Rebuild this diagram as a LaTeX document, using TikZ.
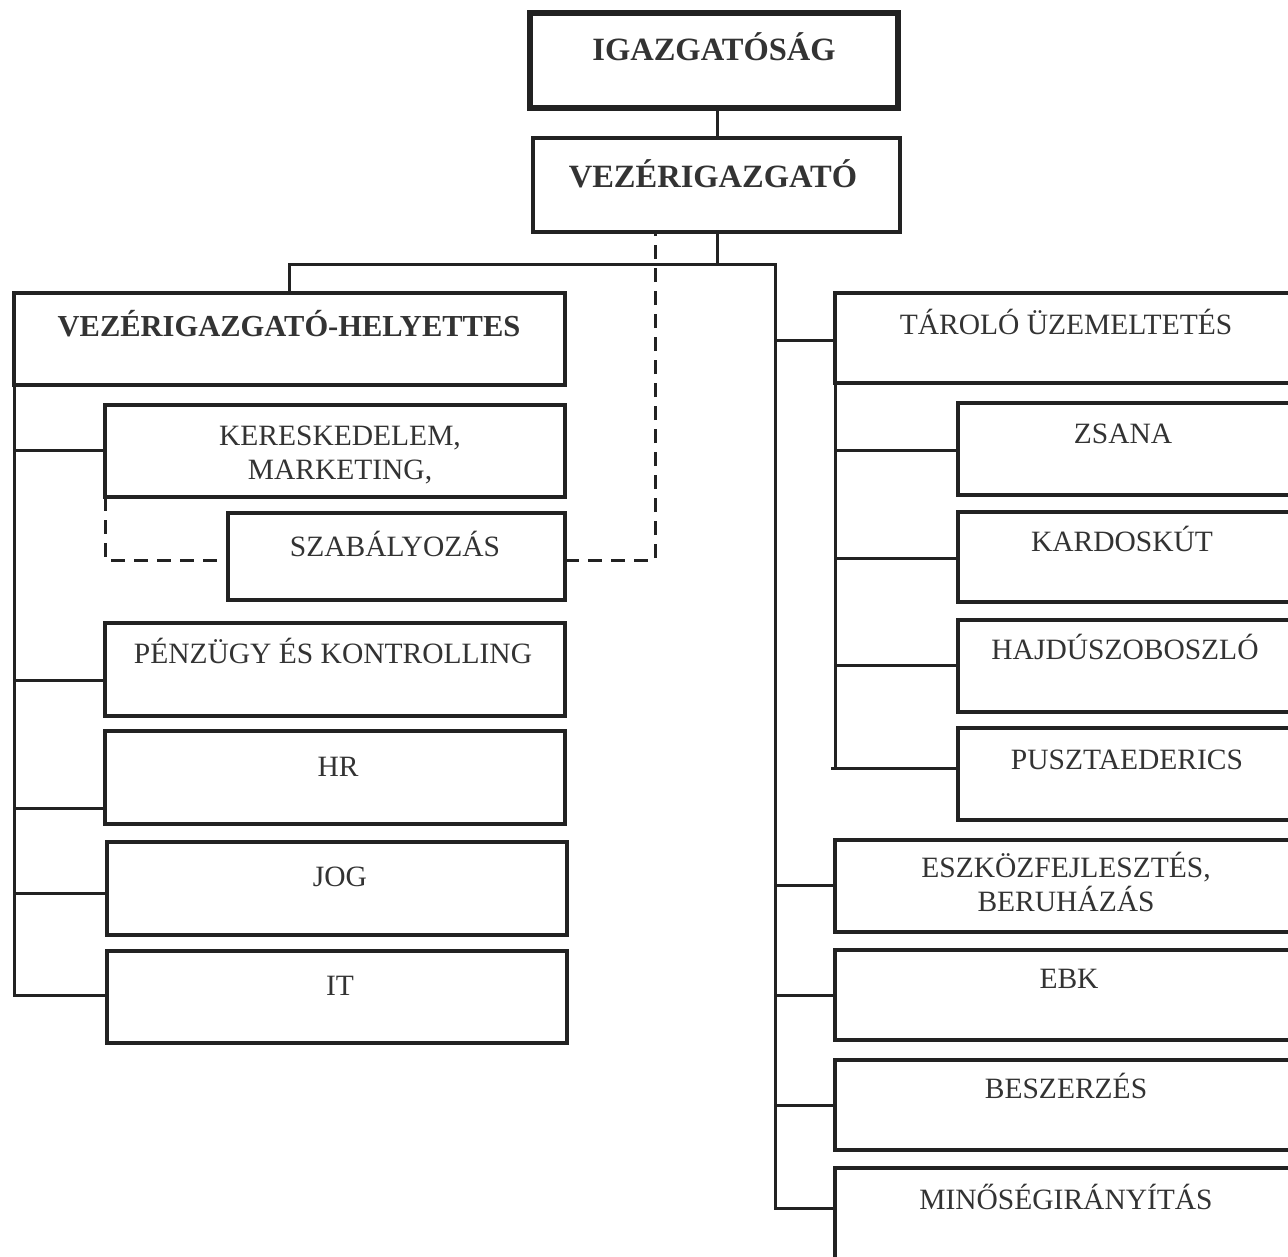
\documentclass[tikz,border=0pt]{standalone}
\usepackage{fontspec}
\setmainfont{Liberation Serif}
\usetikzlibrary{fit}
\definecolor{ink}{HTML}{222222}
\definecolor{txt}{HTML}{333333}
\tikzset{
  box/.style={draw=ink,line width=3.4pt,inner sep=0pt,outer sep=0pt},
  topbox/.style={box,line width=6pt},
  lbl/.style={text=txt,font=\fontsize{29.5}{33}\selectfont,anchor=base,inner sep=0pt},
  toplbl/.style={lbl,font=\fontsize{32.5}{38}\selectfont\bfseries},
  twolbl/.style={lbl,anchor=center,align=center,font=\fontsize{29.5}{34}\selectfont},
  conn/.style={draw=ink,line width=3pt},
  dconn/.style={draw=ink,line width=3pt,dash pattern=on 14pt off 9pt}
}
\begin{document}
\begin{tikzpicture}[x=1pt,y=-1pt]
\useasboundingbox (0,0) rectangle (1288,1256);
\clip (0,0) rectangle (1288,1256);
\fill[white] (0,0) rectangle (1288,1256);
% boxes
\node[topbox,fit={(530,13) (898,108)}] (igaz) {};
\node[box,fit={(533,138) (900,232)}] (vez) {};
\node[box,fit={(14,293) (565,385)}] (vh) {};
\node[box,fit={(105,405) (565,497)}] (ker) {};
\node[box,fit={(228,513) (565,600)}] (sza) {};
\node[box,fit={(105,623) (565,716)}] (pen) {};
\node[box,fit={(105,731) (565,824)}] (hr) {};
\node[box,fit={(107,842) (567,935)}] (jog) {};
\node[box,fit={(107,951) (567,1043)}] (it) {};
\node[box,fit={(835,293) (1298,383)}] (tar) {};
\node[box,fit={(958,403) (1298,495)}] (zsa) {};
\node[box,fit={(958,512) (1298,602)}] (kar) {};
\node[box,fit={(958,620) (1298,712)}] (haj) {};
\node[box,fit={(958,728) (1298,820)}] (pus) {};
\node[box,fit={(835,840) (1298,932)}] (esz) {};
\node[box,fit={(835,950) (1298,1040)}] (ebk) {};
\node[box,fit={(835,1060) (1298,1150)}] (bes) {};
\node[box,fit={(835,1168) (1298,1280)}] (min) {};
% labels
\node[toplbl] (t-igaz) at (714,60) {IGAZGATÓSÁG};
\node[toplbl] (t-vez) at (713,187) {VEZÉRIGAZGATÓ};
\node[lbl,font=\fontsize{30.5}{33}\selectfont\bfseries] (t-vh) at (289,336) {VEZÉRIGAZGATÓ-HELYETTES};
\node[twolbl] (t-ker) at (340,455) {KERESKEDELEM,\\MARKETING,};
\node[lbl] (t-sza) at (395,556) {SZABÁLYOZÁS};
\node[lbl] (t-pen) at (333,663) {PÉNZÜGY ÉS KONTROLLING};
\node[lbl] (t-hr) at (338,776) {HR};
\node[lbl] (t-jog) at (340,886) {JOG};
\node[lbl] (t-it) at (340,995) {IT};
\node[lbl] (t-tar) at (1066,334) {TÁROLÓ ÜZEMELTETÉS};
\node[lbl] (t-zsa) at (1123,443) {ZSANA};
\node[lbl] (t-kar) at (1122,551) {KARDOSKÚT};
\node[lbl] (t-haj) at (1125,659) {HAJDÚSZOBOSZLÓ};
\node[lbl] (t-pus) at (1127,769) {PUSZTAEDERICS};
\node[twolbl] (t-esz) at (1066,882) {ESZKÖZFEJLESZTÉS,\\BERUHÁZÁS};
\node[lbl] (t-ebk) at (1069,988) {EBK};
\node[lbl] (t-bes) at (1066,1098) {BESZERZÉS};
\node[lbl] (t-min) at (1066,1209) {MINŐSÉGIRÁNYÍTÁS};
% coordinates
\coordinate (bus) at (717,264);
\coordinate (bl) at (289,264);
\coordinate (br) at (775,264);
\coordinate (rb) at (775,1208);
\coordinate (lb) at (14,995);
\coordinate (ib) at (835,768);
\coordinate (dk) at (105,560);
\coordinate (dv) at (655,560);
% solid connectors
\draw[conn] (vez.north -| bus) -- (igaz.south -| bus);
\draw[conn] (vez.south -| bus) -- (bus);
\draw[conn] (vh.north -| bl) -- (bl) -- (br) -- (rb) -- (rb -| min.west);
\draw[conn] (vh.south west) -- (lb) -- (lb -| it.west);
\draw[conn] (14,450) -- (ker.west |- 0,450);
\draw[conn] (14,680) -- (pen.west |- 0,680);
\draw[conn] (14,808) -- (hr.west |- 0,808);
\draw[conn] (14,893) -- (jog.west |- 0,893);
\draw[conn] (775,340) -- (tar.west |- 0,340);
\draw[conn] (775,885) -- (esz.west |- 0,885);
\draw[conn] (775,995) -- (ebk.west |- 0,995);
\draw[conn] (775,1105) -- (bes.west |- 0,1105);
\draw[conn] (tar.south west) -- (ib);
\draw[conn] (835,450) -- (zsa.west |- 0,450);
\draw[conn] (835,558) -- (kar.west |- 0,558);
\draw[conn] (835,665) -- (haj.west |- 0,665);
\draw[conn] (831,768) -- (pus.west |- 0,768);
% dashed connectors
\draw[dconn] (ker.south west) -- (dk) -- (dk -| sza.west);
\draw[dconn] (sza.east |- dv) -- (dv) -- (vez.south -| dv);
\end{tikzpicture}
\end{document}
